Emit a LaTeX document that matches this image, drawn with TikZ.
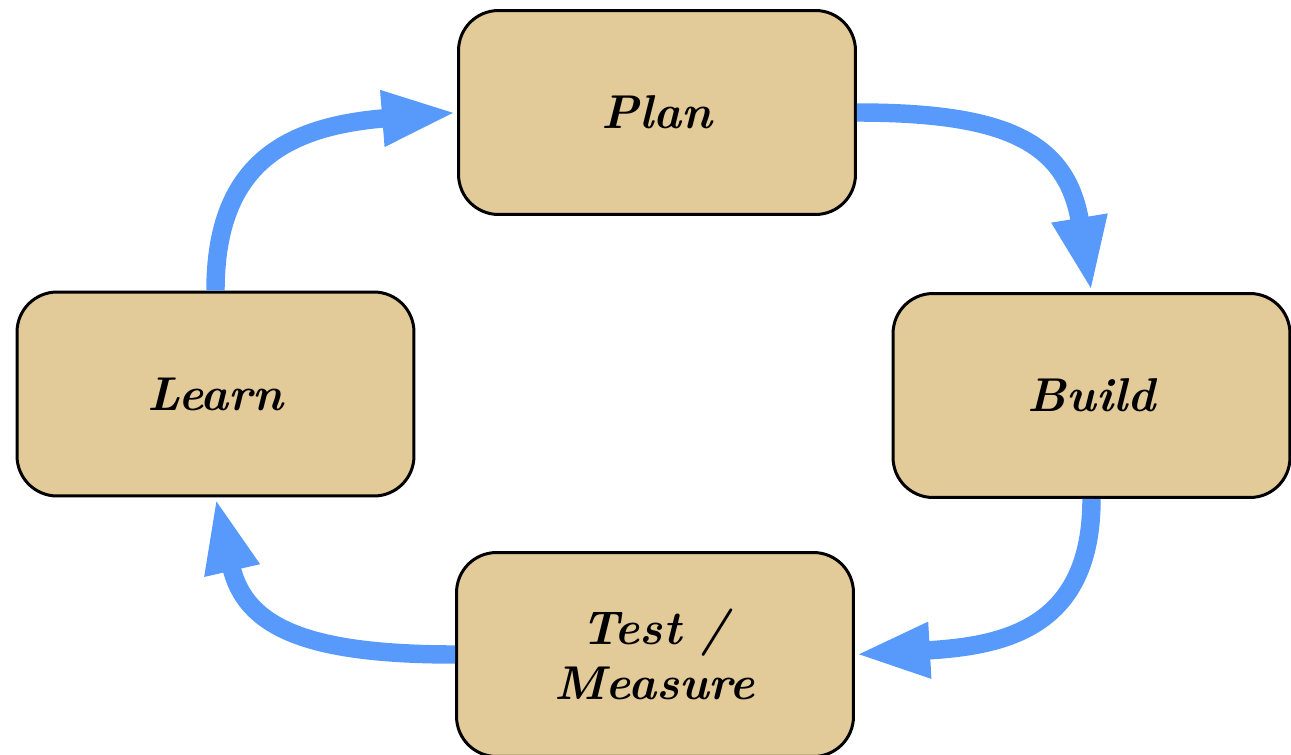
\documentclass[tikz,border=0pt]{standalone}
\usetikzlibrary{arrows.meta}
\definecolor{boxfill}{RGB}{227,202,153}
\definecolor{flowblue}{RGB}{88,154,252}
\begin{document}
\begin{tikzpicture}[x=0.02cm,y=-0.02cm,
  stage/.style={draw=black,line width=1.7pt,fill=boxfill,rounded corners=0.8cm,
    minimum width=7.94cm,minimum height=4.08cm,inner sep=0pt,align=center,
    font=\fontsize{27}{31}\selectfont\bfseries\itshape},
  flow/.style={draw=flowblue,line width=10.5pt,
    -{Triangle[length=1.5cm,width=1.02cm,fill=flowblue]}}]
\useasboundingbox (0,0) rectangle (1291,754);
\node[stage] (plan) at (657,112.5) {Plan};
\node[stage] (build) at (1091.5,395.5) {Build};
\node[stage] (learn) at (215.5,394) {Learn};
\node[stage] (test) at (655,654.5) {Test /\\Measure};
\draw[flow] (plan.east) .. controls (1006,112.5) and (1067,142) .. (build.north);
\draw[flow] (build.south) .. controls (1091.5,628) and (1005,646) .. (test.east);
\draw[flow] (test.west) .. controls (306,654.5) and (245,627) .. (learn.south);
\draw[flow] (learn.north) .. controls (215.5,162) and (288,126) .. (plan.west);
\end{tikzpicture}
\end{document}
